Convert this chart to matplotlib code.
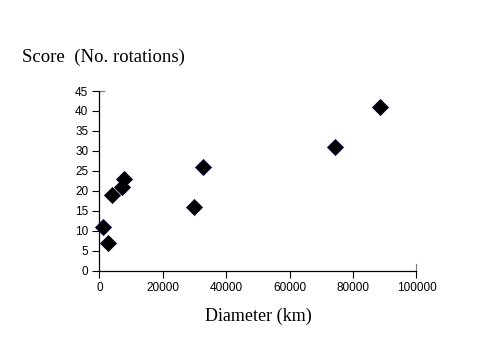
import matplotlib.pyplot as plt

diameter_km = [1000, 2800, 4000, 7000, 7800, 29700, 32700, 74400, 88600]
score = [11, 7, 19, 21, 23, 16, 26, 31, 41]

x_ticks = [0, 20000, 40000, 60000, 80000, 100000]
y_ticks = [0, 5, 10, 15, 20, 25, 30, 35, 40, 45]

fig = plt.figure(figsize=(4.93, 3.37), dpi=100)
ax = fig.add_axes([0.2018, 0.1973, 0.643, 0.5326])

ax.plot(diameter_km, score, linestyle='none', marker='D', markersize=8,
        markerfacecolor='black', markeredgecolor='#000033', markeredgewidth=0.6,
        clip_on=False, zorder=3)

ax.set_xlim(0, 100000)
ax.set_ylim(0, 45)
ax.set_xticks(x_ticks)
ax.set_yticks(y_ticks)
ax.set_xticklabels([str(v) for v in x_ticks])
ax.set_yticklabels([str(v) for v in y_ticks])

for side in ('top', 'right'):
    ax.spines[side].set_visible(False)
for side in ('left', 'bottom'):
    ax.spines[side].set_linewidth(0.9)
    ax.spines[side].set_color('black')

# short gray stubs where the plot-area border meets the axes
ax.plot([0, 0.015], [1, 1], transform=ax.transAxes, color='#808080',
        linewidth=0.9, clip_on=False)
ax.plot([1, 1], [0, 0.035], transform=ax.transAxes, color='#808080',
        linewidth=0.9, clip_on=False)

ax.tick_params(direction='out', length=5, width=0.8, colors='black',
               labelsize=8.5, pad=3)
for lbl in ax.get_xticklabels() + ax.get_yticklabels():
    lbl.set_fontfamily('Liberation Sans')

ax.set_xlabel('Diameter (km)', fontfamily='Liberation Serif', fontsize=13,
              labelpad=10)
fig.text(22 / 493, 1 - 57 / 337, 'Score  (No. rotations)',
         fontfamily='Liberation Serif', fontsize=13.5, ha='left', va='center')

fig.savefig('out.png', dpi=100)
